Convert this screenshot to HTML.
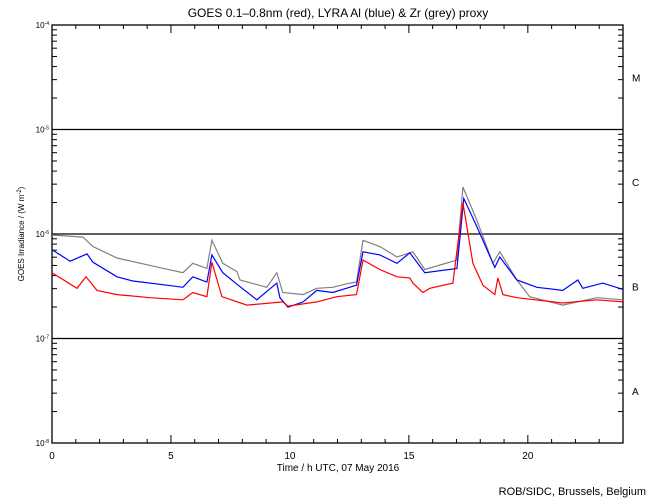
<!DOCTYPE html>
<html><head><meta charset="utf-8"><style>
body{margin:0;background:#fff;}
svg{display:block;font-family:"Liberation Sans",sans-serif;}
</style></head><body>
<svg id="chart" width="650" height="500" viewBox="0 0 650 500" xmlns="http://www.w3.org/2000/svg">
<rect width="650" height="500" fill="#fff"/>
<text x="338" y="17" font-size="12" text-anchor="middle">GOES 0.1–0.8nm (red), LYRA Al (blue) &amp; Zr (grey) proxy</text>
<text x="338" y="471" font-size="10" text-anchor="middle">Time / h UTC, 07 May 2016</text>
<text transform="translate(24,234) rotate(-90)" font-size="8" text-anchor="middle">GOES Irradiance / (W m<tspan baseline-shift="super" font-size="6">-2</tspan>)</text>
<text x="646" y="495" font-size="11" text-anchor="end">ROB/SIDC, Brussels, Belgium</text>
<g id="axes"></g>
<g id="series"></g>
</svg>
<script>
const seriesGreyHours=[0,1.3,1.72,2.73,4.12,5.5,5.92,6.51,6.72,7.18,7.77,7.9,9.03,9.45,9.7,10.55,11.13,11.8,12.52,12.8,13.07,13.78,14.5,15.17,15.67,17.02,17.27,17.86,18.53,18.82,19.54,20.08,21.47,22.9,24];
const seriesGreyLog=[-6.01,-6.03,-6.12,-6.23,-6.30,-6.37,-6.28,-6.33,-6.06,-6.28,-6.36,-6.44,-6.51,-6.37,-6.56,-6.58,-6.52,-6.51,-6.47,-6.46,-6.06,-6.12,-6.22,-6.17,-6.34,-6.25,-5.55,-5.87,-6.28,-6.17,-6.44,-6.60,-6.68,-6.61,-6.63];
const seriesBlueHours=[0,0.76,1.47,1.72,2.73,3.4,4.83,5.5,5.92,6.51,6.72,7.18,7.77,8.61,9.45,9.58,9.92,10.55,11.13,11.8,12.8,13.07,13.78,14.5,15.04,15.67,17.02,17.31,17.86,18.61,18.82,19.54,20.38,21.47,22.1,22.31,23.15,24];
const seriesBlueLog=[-6.15,-6.26,-6.19,-6.27,-6.41,-6.45,-6.49,-6.51,-6.41,-6.46,-6.20,-6.37,-6.48,-6.63,-6.47,-6.61,-6.70,-6.65,-6.54,-6.56,-6.49,-6.17,-6.20,-6.28,-6.18,-6.37,-6.33,-5.66,-5.93,-6.32,-6.22,-6.44,-6.51,-6.54,-6.44,-6.52,-6.47,-6.53];
const seriesRedHours=[0,1.05,1.43,1.89,2.73,4.12,5.5,5.92,6.51,6.72,7.14,8.19,9.7,9.92,11.13,11.97,12.8,13.07,13.78,14.5,15.04,15.17,15.59,15.88,16.85,17.27,17.69,18.11,18.61,18.74,18.95,19.54,21.47,22.9,24];
const seriesRedLog=[-6.37,-6.52,-6.41,-6.54,-6.58,-6.61,-6.63,-6.56,-6.60,-6.27,-6.60,-6.68,-6.65,-6.69,-6.65,-6.60,-6.58,-6.25,-6.34,-6.41,-6.42,-6.47,-6.56,-6.52,-6.47,-5.70,-6.28,-6.49,-6.58,-6.42,-6.58,-6.61,-6.66,-6.63,-6.65];
const xTickLabels=[0,5,10,15,20];
const yDecades=[-4,-5,-6,-7,-8];
const classLabels=["M","C","B","A"];

const X0=52,X1=623,Y0=25,Y1=443;
const xs=h=>X0+(X1-X0)*h/24;
const ys=l=>Y0+(Y1-Y0)*(-4-l)/4;
const NS="http://www.w3.org/2000/svg";
const axes=document.getElementById('axes');
function mk(tag,attrs,parent){const e=document.createElementNS(NS,tag);for(const k in attrs)e.setAttribute(k,attrs[k]);parent.appendChild(e);return e;}

const frame=mk('rect',{x:X0,y:Y0,width:X1-X0,height:Y1-Y0,fill:'none',stroke:'#000','stroke-width':1.3},axes);



for(let h=0;h<=24;h++){
  const L=h%5===0?8:4;
  const t1=mk('line',{x1:xs(h),x2:xs(h),y1:Y1,y2:Y1-L,stroke:'#000'},axes);
  
  
  const t2=mk('line',{x1:xs(h),x2:xs(h),y1:Y0,y2:Y0+L,stroke:'#000'},axes);
  
  
}
xTickLabels.forEach(v=>{
  const t=mk('text',{x:xs(v),y:Y1+16,'font-size':10,'text-anchor':'middle'},axes);
  t.textContent=v;
  
  
});
yDecades.forEach((d,i)=>{
  const y=ys(d);
  if(d>-8&&d<-4){
    const g=mk('line',{x1:X0,x2:X1,y1:y,y2:y,stroke:'#000','stroke-width':1.3},axes);
    
    
  }
  const t=mk('text',{x:X0-3,y:y+3,'font-size':8,'text-anchor':'end'},axes);
  t.innerHTML='10<tspan baseline-shift="super" font-size="5">'+d+'</tspan>';
  
  
  if(d>-8){
    for(let m=2;m<=9;m++){
      const yy=ys(d-1+Math.log10(m));
      const a=mk('line',{x1:X0,x2:X0+5,y1:yy,y2:yy,stroke:'#000'},axes);
      
      
      const b=mk('line',{x1:X1,x2:X1-5,y1:yy,y2:yy,stroke:'#000'},axes);
      
      
    }
  }
});
classLabels.forEach((c,i)=>{
  const t=mk('text',{x:X1+9,y:ys(-4.5-i)+4,'font-size':10},axes);
  t.textContent=c;
  
  
});

const sg=document.getElementById('series');
[[seriesGreyHours,seriesGreyLog,'#808080','grey-zr-series'],[seriesBlueHours,seriesBlueLog,'#0000ff','blue-al-series'],[seriesRedHours,seriesRedLog,'#ff0000','red-goes-series']].forEach(s=>{
  const pts=s[0].map((h,i)=>xs(h).toFixed(1)+','+ys(s[1][i]).toFixed(1)).join(' ');
  const p=mk('polyline',{points:pts,fill:'none',stroke:s[2],'stroke-width':1.2},sg);
  
  
});
</script>
</body></html>
